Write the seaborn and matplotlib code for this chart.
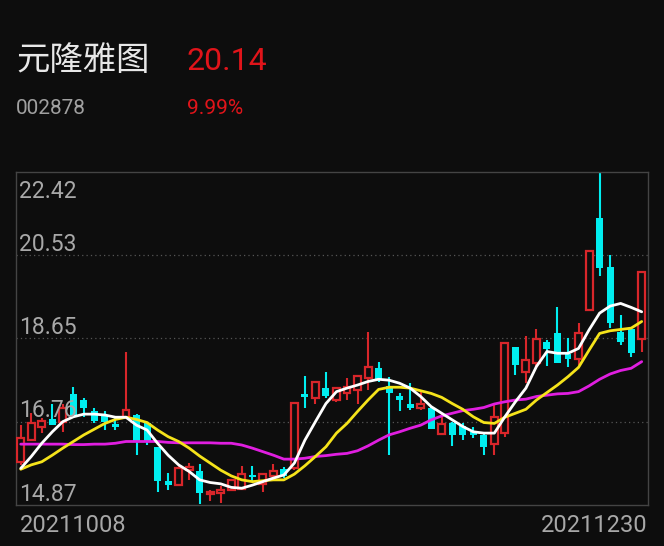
import numpy as np
import pandas as pd
import matplotlib
matplotlib.use("Agg")
import matplotlib.pyplot as plt
import seaborn as sns

name = "元隆雅图"
code = "002878"
last_price = "20.14"
change = "9.99%"
dates = ["20211008", "20211230"]
yticks = [14.87, 16.76, 18.65, 20.53, 22.42]

opens = [15.85, 16.34, 16.63, 16.81, 16.76, 17.39, 17.25, 16.99, 16.91, 16.71,
         16.87, 16.91, 16.72, 16.19, 15.42, 15.32, 15.66, 15.65, 15.12, 15.15,
         15.20, 15.23, 15.55, 15.35, 15.53, 15.68, 15.70, 17.39, 17.29, 17.52,
         17.25, 17.42, 17.48, 17.76, 17.97, 17.57, 17.34, 17.17, 17.08, 17.06,
         16.48, 16.72, 16.65, 16.53, 16.46, 16.25, 16.50, 18.45, 17.89, 18.10,
         18.57, 18.78, 18.29, 18.17, 19.28, 21.37, 20.26, 18.80, 18.85, 18.63]
highs = [16.68, 16.96, 16.84, 17.17, 17.17, 17.54, 17.29, 17.08, 16.99, 16.84,
         18.35, 16.93, 16.76, 16.19, 15.60, 15.78, 15.83, 15.80, 15.21, 15.30,
         15.44, 15.76, 15.76, 15.60, 15.81, 15.74, 17.19, 17.79, 17.69, 17.89,
         17.55, 17.74, 17.82, 18.80, 18.12, 17.78, 17.42, 17.63, 17.44, 17.10,
         16.95, 16.76, 16.74, 16.63, 16.49, 17.14, 18.54, 18.45, 18.70, 18.85,
         18.61, 19.37, 18.65, 19.00, 20.64, 22.43, 20.54, 19.18, 18.85, 20.16]
lows = [15.78, 16.31, 16.51, 16.68, 16.53, 16.84, 16.87, 16.74, 16.57, 16.57,
        16.84, 16.00, 16.23, 15.17, 15.20, 15.30, 15.44, 14.89, 14.95, 14.91,
        15.20, 15.23, 15.40, 15.17, 15.48, 15.48, 15.66, 17.06, 17.17, 17.29,
        17.21, 17.25, 17.17, 17.48, 17.67, 16.00, 16.99, 17.02, 17.02, 16.59,
        16.46, 16.21, 16.34, 16.38, 16.00, 16.00, 16.42, 17.82, 17.63, 17.97,
        18.02, 18.10, 18.01, 18.04, 19.28, 20.06, 18.88, 18.50, 18.22, 18.35]
closes = [16.38, 16.72, 16.78, 16.68, 17.06, 16.87, 17.08, 16.78, 16.76, 16.63,
          17.02, 16.33, 16.33, 15.42, 15.32, 15.70, 15.74, 15.14, 15.17, 15.20,
          15.44, 15.57, 15.51, 15.57, 15.65, 15.53, 17.19, 17.31, 17.66, 17.33,
          17.52, 17.55, 17.79, 18.01, 17.72, 17.42, 17.25, 17.08, 17.16, 16.59,
          16.71, 16.46, 16.46, 16.46, 16.18, 16.86, 18.54, 18.04, 18.16, 18.63,
          18.40, 18.10, 18.17, 18.76, 20.64, 20.24, 19.00, 18.57, 18.32, 20.16]

ma5 = [15.70, 15.97, 16.27, 16.53, 16.76, 16.87, 16.93, 16.93, 16.91, 16.86,
       16.86, 16.68, 16.57, 16.27, 16.00, 15.78, 15.63, 15.44, 15.38, 15.35,
       15.27, 15.25, 15.32, 15.40, 15.48, 15.55, 15.82, 16.34, 16.76, 17.17,
       17.44, 17.52, 17.59, 17.67, 17.72, 17.70, 17.63, 17.52, 17.33, 17.10,
       16.95, 16.80, 16.65, 16.53, 16.50, 16.50, 16.87, 17.21, 17.52, 18.01,
       18.35, 18.31, 18.31, 18.42, 18.84, 19.22, 19.38, 19.44, 19.35, 19.25]
ma10 = [15.68, 15.78, 15.85, 16.00, 16.16, 16.31, 16.46, 16.59, 16.72, 16.81,
        16.86, 16.81, 16.74, 16.57, 16.42, 16.31, 16.16, 15.98, 15.82, 15.66,
        15.53, 15.44, 15.40, 15.42, 15.44, 15.44, 15.57, 15.76, 15.97, 16.19,
        16.50, 16.72, 16.99, 17.25, 17.49, 17.54, 17.54, 17.52, 17.46, 17.40,
        17.31, 17.17, 17.04, 16.87, 16.74, 16.72, 16.86, 16.95, 17.04, 17.25,
        17.42, 17.59, 17.78, 17.99, 18.38, 18.76, 18.82, 18.85, 18.88, 19.03]
ma30 = [16.25, 16.25, 16.25, 16.25, 16.25, 16.24, 16.24, 16.25, 16.25, 16.27,
        16.31, 16.31, 16.31, 16.31, 16.29, 16.28, 16.28, 16.28, 16.28, 16.27,
        16.27, 16.23, 16.16, 16.08, 16.00, 15.91, 15.91, 15.93, 15.97, 15.99,
        16.02, 16.04, 16.10, 16.21, 16.34, 16.46, 16.53, 16.61, 16.68, 16.80,
        16.89, 16.95, 17.01, 17.04, 17.08, 17.16, 17.21, 17.25, 17.27, 17.33,
        17.36, 17.39, 17.40, 17.44, 17.57, 17.72, 17.84, 17.92, 17.97, 18.12]

bg = "#0d0d0d"
red = "#d8262a"
cyan = "#00eef0"

sns.set_theme(style="dark", rc={"axes.facecolor": bg, "figure.facecolor": bg})
plt.rcParams["font.family"] = ["Roboto", "Noto Sans CJK SC", "DejaVu Sans"]

df = pd.DataFrame({"i": np.arange(len(closes)), "open": opens, "high": highs,
                   "low": lows, "close": closes, "ma5": ma5, "ma10": ma10, "ma30": ma30})
df["up"] = df.close >= df.open

fig = plt.figure(figsize=(6.64, 5.46), dpi=100)
ax = fig.add_axes([16 / 664, 1 - 505 / 546, 632 / 664, 333 / 546])

for g in yticks[1:-1]:
    ax.axhline(g, color="#555555", lw=0.9, ls=(0, (1, 2.5)), zorder=0)

w = 0.66
for up, sub in df.groupby("up"):
    col = red if up else cyan
    bot = np.minimum(sub.open, sub.close)
    h = np.maximum((sub.close - sub.open).abs(), 0.02)
    # wick pieces outside the body so red boxes stay hollow
    ax.vlines(sub.i, sub.low, bot, color=col, lw=1.5, zorder=2)
    ax.vlines(sub.i, bot + h, sub.high, color=col, lw=1.5, zorder=2)
    if up:
        ax.bar(sub.i, h, bottom=bot, width=w, facecolor=bg, edgecolor=col, lw=1.6, zorder=3)
    else:
        ax.bar(sub.i, h, bottom=bot, width=w, color=col, lw=0, zorder=3)

sns.lineplot(data=df, x="i", y="ma30", color="#e01ee0", lw=2, ax=ax, zorder=4)
sns.lineplot(data=df, x="i", y="ma10", color="#f5e31a", lw=2, ax=ax, zorder=4)
sns.lineplot(data=df, x="i", y="ma5", color="#ffffff", lw=2, ax=ax, zorder=5)

ax.set_xlim(-0.45, len(closes) - 1 + 0.6)
ax.set_ylim(yticks[0], yticks[-1])
ax.set_xticks([])
ax.set_yticks([])
ax.set_xlabel("")
ax.set_ylabel("")
for s in ax.spines.values():
    s.set_visible(True)
    s.set_color("#444444")
    s.set_linewidth(1)

for v in yticks:
    top = v == yticks[-1]
    ax.annotate(f"{v:.2f}", (0.005, v), xycoords=("axes fraction", "data"),
                xytext=(0, -6 if top else -0.5), textcoords="offset points",
                color="#a8a8a8", fontsize=16.5, va="top" if top else "bottom",
                ha="left", zorder=6)

fig.text(16 / 664, 1 - 61 / 546, name, color="#e8e8e8", fontsize=24, va="center")
fig.text(187 / 664, 1 - 61 / 546, last_price, color="#e0141a", fontsize=23, va="center")
fig.text(16 / 664, 1 - 108 / 546, code, color="#a0a0a0", fontsize=15, va="center")
fig.text(187 / 664, 1 - 108 / 546, change, color="#e0141a", fontsize=15, va="center")
fig.text(20 / 664, 1 - 525 / 546, dates[0], color="#a8a8a8", fontsize=17, va="center")
fig.text(648 / 664, 1 - 525 / 546, dates[1], color="#a8a8a8", fontsize=17, va="center", ha="right")

fig.savefig("out.png", dpi=100, facecolor=bg)
